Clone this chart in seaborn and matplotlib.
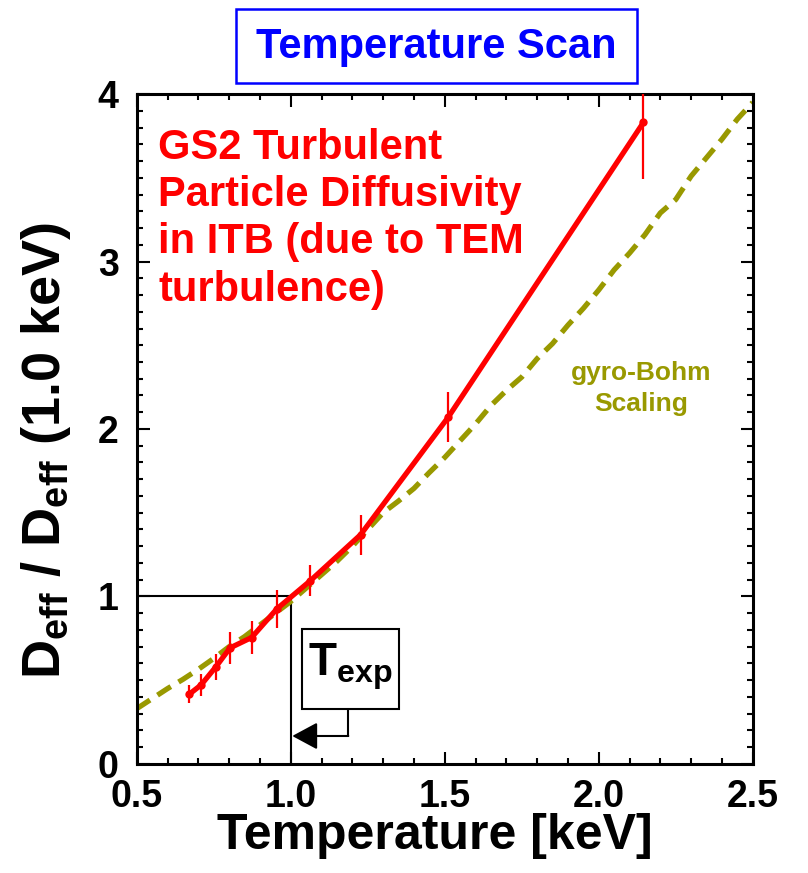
import numpy as np
import pandas as pd
import matplotlib
matplotlib.use("Agg")
import matplotlib.pyplot as plt
import seaborn as sns
from matplotlib.patches import Rectangle
from matplotlib.ticker import MultipleLocator, FormatStrFormatter

# ---------------- data ----------------
temp_gs2 = [0.671, 0.709, 0.757, 0.803, 0.873, 0.955, 1.063, 1.227, 1.512, 2.145]
deff_gs2 = [0.417, 0.472, 0.580, 0.693, 0.755, 0.926, 1.093, 1.369, 2.072, 3.830]
err_gs2 = [0.055, 0.065, 0.077, 0.095, 0.097, 0.115, 0.092, 0.120, 0.150, 0.340]

temp_gb = [0.50, 0.55, 0.60, 0.65, 0.70, 0.75, 0.80, 0.85, 0.90, 0.95,
           1.00, 1.05, 1.10, 1.15, 1.20, 1.25, 1.30, 1.35, 1.40, 1.45,
           1.50, 1.55, 1.60, 1.65, 1.70, 1.75, 1.80, 1.85, 1.90, 1.95,
           2.00, 2.05, 2.10, 2.15, 2.20, 2.25, 2.30, 2.35, 2.40, 2.45, 2.50]
deff_gb = [0.33, 0.39, 0.45, 0.505, 0.565, 0.63, 0.70, 0.76, 0.83, 0.90,
           0.97, 1.05, 1.13, 1.21, 1.30, 1.40, 1.50, 1.57, 1.645, 1.74,
           1.83, 1.93, 2.03, 2.14, 2.23, 2.31, 2.42, 2.51, 2.62, 2.72,
           2.83, 2.95, 3.05, 3.16, 3.29, 3.37, 3.51, 3.62, 3.73, 3.85, 3.95]

x_ticks = [0.5, 1.0, 1.5, 2.0, 2.5]
y_ticks = [0, 1, 2, 3, 4]

gs2 = pd.DataFrame({"T": temp_gs2, "D": deff_gs2, "err": err_gs2})
gb = pd.DataFrame({"T": temp_gb, "D": deff_gb})

# ---------------- style ----------------
sns.set_theme(style="ticks")
plt.rcParams["font.family"] = ["Liberation Sans", "DejaVu Sans"]
plt.rcParams["font.weight"] = "bold"
plt.rcParams["text.color"] = "black"
plt.rcParams["axes.labelcolor"] = "black"
plt.rcParams["xtick.color"] = "black"
plt.rcParams["ytick.color"] = "black"
plt.rcParams["mathtext.fontset"] = "custom"
plt.rcParams["mathtext.rm"] = "Liberation Sans:bold"
plt.rcParams["mathtext.it"] = "Liberation Sans:bold"
plt.rcParams["mathtext.bf"] = "Liberation Sans:bold"

RED = "#ff0000"
OLIVE = "#999900"
BLUE = "#0000ff"

fig = plt.figure(figsize=(8.08, 8.73), dpi=100)
ax = fig.add_axes([0.1692, 0.1249, 0.7624, 0.7674])

# gyro-Bohm scaling (dashed)
sns.lineplot(data=gb, x="T", y="D", ax=ax, color=OLIVE, lw=3.8,
             linestyle=(0, (3, 1.7)), dash_capstyle="butt", zorder=2)

# GS2 line
sns.lineplot(data=gs2, x="T", y="D", ax=ax, color=RED, lw=3.8,
             marker="o", markersize=6, markeredgewidth=0, zorder=3)
ax.errorbar(gs2["T"], gs2["D"], yerr=gs2["err"], fmt="none",
            ecolor=RED, elinewidth=1.6, capsize=0, zorder=3)

# reference lines at T = 1.0 keV
ax.plot([0.5, 1.0], [1.0, 1.0], color="black", lw=1.5, zorder=1)
ax.plot([1.0, 1.0], [0.0, 1.0], color="black", lw=1.5, zorder=1)

# T_exp box + arrow
ax.add_patch(Rectangle((1.038, 0.327), 0.313, 0.48, fill=False,
                       edgecolor="black", lw=1.5, zorder=4))
ax.text(1.192, 0.58, r"T$_{\mathrm{exp}}$", fontsize=33, fontweight="bold",
        ha="center", va="center", color="black", zorder=5)
ax.plot([1.185, 1.185], [0.327, 0.167], color="black", lw=1.5, zorder=4)
ax.annotate("", xy=(1.005, 0.167), xytext=(1.187, 0.167),
            arrowprops=dict(arrowstyle="-|>,head_length=1.3,head_width=0.7",
                            color="black", lw=1.5, shrinkA=0, shrinkB=0),
            zorder=4)

# annotations
ax.text(0.570, 3.80, "GS2 Turbulent\nParticle Diffusivity\nin ITB (due to TEM\nturbulence)",
        color=RED, fontsize=30, fontweight="bold", ha="left", va="top",
        linespacing=1.24)
ax.text(2.137, 2.24, "gyro-Bohm\nScaling", color=OLIVE, fontsize=19,
        fontweight="bold", ha="center", va="center", linespacing=1.35)

# axes formatting
ax.set_xlim(0.5, 2.5)
ax.set_ylim(0, 4)
ax.set_xticks(x_ticks)
ax.set_yticks(y_ticks)
ax.xaxis.set_minor_locator(MultipleLocator(0.1))
ax.yaxis.set_minor_locator(MultipleLocator(0.1))
ax.xaxis.set_major_formatter(FormatStrFormatter("%.1f"))
ax.yaxis.set_major_formatter(FormatStrFormatter("%d"))
ax.tick_params(which="both", direction="in", top=True, right=True,
               color="black", labelcolor="black", width=1.5)
ax.tick_params(which="major", length=9, labelsize=27, pad=11)
ax.tick_params(axis="y", which="major", pad=13)
ax.tick_params(which="minor", length=4.5)
for lab in ax.get_xticklabels() + ax.get_yticklabels():
    lab.set_fontweight("bold")
for sp in ax.spines.values():
    sp.set_linewidth(2.2)
    sp.set_color("black")
ax.grid(False)

ax.set_xlabel("Temperature [keV]", fontsize=36, fontweight="bold", color="black")
ax.xaxis.set_label_coords(0.484, -0.073)
ax.set_ylabel(r"D$_{\mathrm{eff}}$ / D$_{\mathrm{eff}}$ (1.0 keV)",
              fontsize=39, fontweight="bold", color="black")
ax.yaxis.set_label_coords(-0.103, 0.468)

# title box
fig.patches.append(Rectangle((236 / 808, 1 - 82.7 / 873), 401.3 / 808, 73.4 / 873,
                             transform=fig.transFigure, fill=False,
                             edgecolor=BLUE, lw=1.8))
fig.text(436.7 / 808, 1 - 47 / 873, "Temperature Scan", color=BLUE,
         fontsize=30, fontweight="bold", ha="center", va="center")

fig.savefig("out.png", dpi=100)
